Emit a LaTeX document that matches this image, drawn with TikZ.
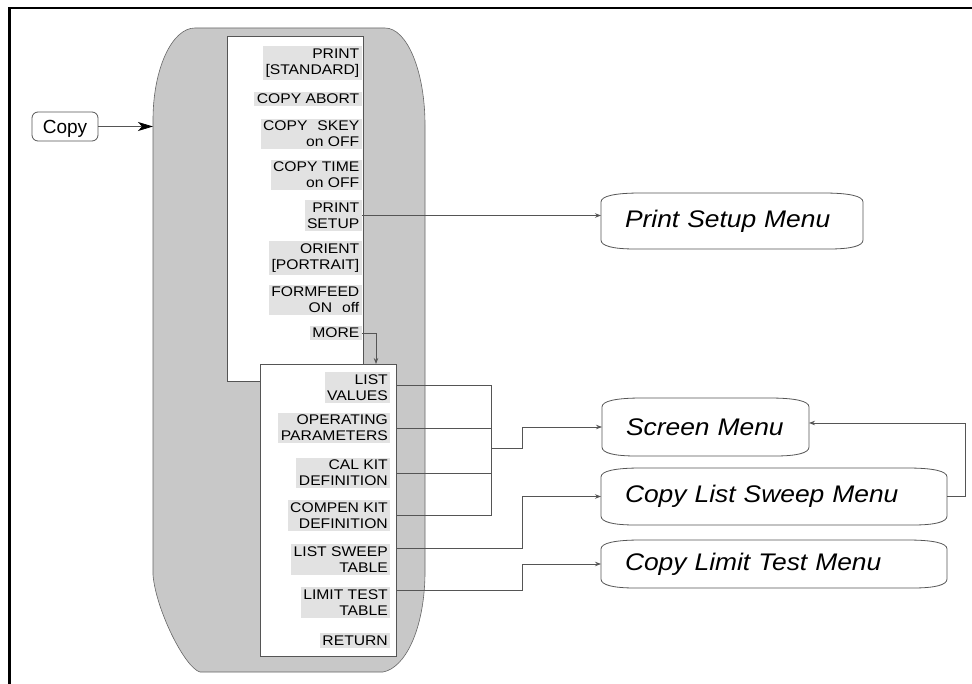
\documentclass[tikz,border=0pt]{standalone}
\usepackage{fontspec}
\setmainfont{Liberation Sans}
\newfontfamily\lblfont{Liberation Sans}[FakeStretch=1.12]
\newfontfamily\menufont{Liberation Sans}[FakeStretch=1.1]
\usetikzlibrary{arrows.meta,calc}
\definecolor{linegray}{RGB}{85,85,85}
\definecolor{shapefill}{RGB}{200,200,200}
\definecolor{lblshade}{RGB}{226,226,226}
\tikzset{
 lbl/.style={fill=lblshade, inner xsep=2.5pt, inner ysep=2.5pt, align=right, anchor=east, font=\lblfont\fontsize{14}{16}\selectfont},
 conn/.style={draw=linegray, line width=0.8pt},
 arr/.style={conn, -{Stealth[length=6pt,width=4.5pt]}},
 panel/.style={draw=linegray, fill=white, line width=0.8pt, inner sep=0pt, outer sep=0pt, anchor=north west},
 menu/.style={inner xsep=24pt, inner ysep=0pt, align=left, outer sep=0pt, font=\menufont\itshape\fontsize{24}{28}\selectfont},
 menuline/.style={draw=linegray, line width=0.8pt},
}
\newcommand\menuoutline[1]{%
 \draw[menuline] ($(#1.north west)+(0,9)$) .. controls ($(#1.north west)+(0,3)$) and ($(#1.north west)+(14,0)$) .. ($(#1.north west)+(40,0)$)
 -- ($(#1.north east)+(-40,0)$) .. controls ($(#1.north east)+(-14,0)$) and ($(#1.north east)+(0,3)$) .. ($(#1.north east)+(0,9)$)
 -- ($(#1.south east)+(0,-9)$) .. controls ($(#1.south east)+(0,-3)$) and ($(#1.south east)+(-12,0)$) .. ($(#1.south east)+(-34,0)$)
 -- ($(#1.south west)+(34,0)$) .. controls ($(#1.south west)+(12,0)$) and ($(#1.south west)+(0,-3)$) .. ($(#1.south west)+(0,-9)$)
 -- cycle;}
\begin{document}
\begin{tikzpicture}[x=1pt,y=-1pt]
\useasboundingbox (0,0) rectangle (972,684);
% frame
\draw[line width=2.5pt, black] (9.5,684) -- (9.5,8) -- (972,8);
% gray menu body
\filldraw[fill=shapefill, draw=black!60, line width=0.6pt]
 (153,120) -- (153,575) .. controls (156,610) and (185,668) .. (200,672)
 -- (383,672) .. controls (405,668) and (424,630) .. (425,575)
 -- (425,125) .. controls (425,71.4) and (407.1,28) .. (385,28)
 -- (195,28) .. controls (171.8,28) and (153,69.2) .. (153,120) -- cycle;
% panels
\node[panel, minimum width=136pt, minimum height=345pt] (p1) at (227,36) {};
\node[panel, minimum width=136pt, minimum height=292pt] (p2) at (260,364) {};
% labels panel 1
\node[lbl] (l1) at (362,63) {PRINT\\{}[STANDARD]};
\node[lbl] (l2) at (362,99) {COPY ABORT};
\node[lbl] (l3) at (362,134) {COPY\hspace{10pt}SKEY\\on OFF};
\node[lbl] (l4) at (362,175) {COPY TIME\\on OFF};
\node[lbl] (ps) at (362,215.5) {PRINT\\SETUP};
\node[lbl] (l6) at (362,258) {ORIENT\\{}[PORTRAIT]};
\node[lbl] (l7) at (362,300) {FORMFEED\\ON\hspace{10pt}off};
\node[lbl] (more) at (362,333) {MORE};
% labels panel 2
\node[lbl] (lv) at (390.5,387.5) {LIST\\VALUES};
\node[lbl] (op) at (390.5,428) {OPERATING\\PARAMETERS};
\node[lbl] (ck) at (390.5,473) {CAL KIT\\DEFINITION};
\node[lbl] (cp) at (390.5,515.5) {COMPEN KIT\\DEFINITION};
\node[lbl] (ls) at (390.5,559.5) {LIST SWEEP\\TABLE};
\node[lbl] (lt) at (390.5,602.5) {LIMIT TEST\\TABLE};
\node[lbl] (ret) at (390.5,640.5) {RETURN};
% menus
\node[menu, minimum height=56pt, text width=214pt] (psm) at (732,221) {Print Setup Menu};
\node[menu, minimum height=58pt, text width=159pt] (sm) at (705.5,427) {Screen Menu};
\node[menu, minimum height=57pt, text width=298pt] (cls) at (774,496.5) {Copy List Sweep Menu};
\node[menu, minimum height=48pt, text width=298pt] (clt) at (774,564) {Copy Limit Test Menu};
\menuoutline{psm}
\menuoutline{sm}
\menuoutline{cls}
\menuoutline{clt}
% copy key
\node[draw=linegray, line width=0.8pt, rounded corners=6pt, minimum width=66pt, minimum height=29pt, text depth=0pt, font=\fontsize{19}{22}\selectfont] (copy) at (65,126.5) {Copy};
\coordinate (edge) at (153,126.5);
\draw[conn, -{Stealth[length=15pt,width=9pt,inset=4pt,color=black]}] (copy.east) -- (edge);
% connectors
\draw[arr] (ps.east) -- (ps.east -| psm.west);
\coordinate (mj) at (376,333);
\draw[arr] (more.east) -- (more.east -| mj) -- (mj |- p2.north);
\coordinate (bus) at (491,448);
\coordinate (j1) at (522,448);
\draw[conn] ($(lv.east -| p2.east)+(0,-2.5)$) -- ($(lv.east -| bus)+(0,-2.5)$) -- (cp.east -| bus);
\draw[conn] (op.east -| p2.east) -- (op.east -| bus);
\draw[conn] (ck.east -| p2.east) -- (ck.east -| bus);
\draw[conn] (cp.east -| p2.east) -- (cp.east -| bus);
\draw[arr] (bus) -- (j1) |- (sm.west);
\draw[arr] ($(ls.east -| p2.east)+(0,-11.5)$) -| (cls.west -| j1) -- (cls.west);
\draw[arr] ($(lt.east -| p2.east)+(0,-12.5)$) -| (clt.west -| j1) -- (clt.west);
\coordinate (rr) at (965,423);
\draw[arr] (cls.east) -| (rr) -- (rr -| sm.east);
\end{tikzpicture}
\end{document}
